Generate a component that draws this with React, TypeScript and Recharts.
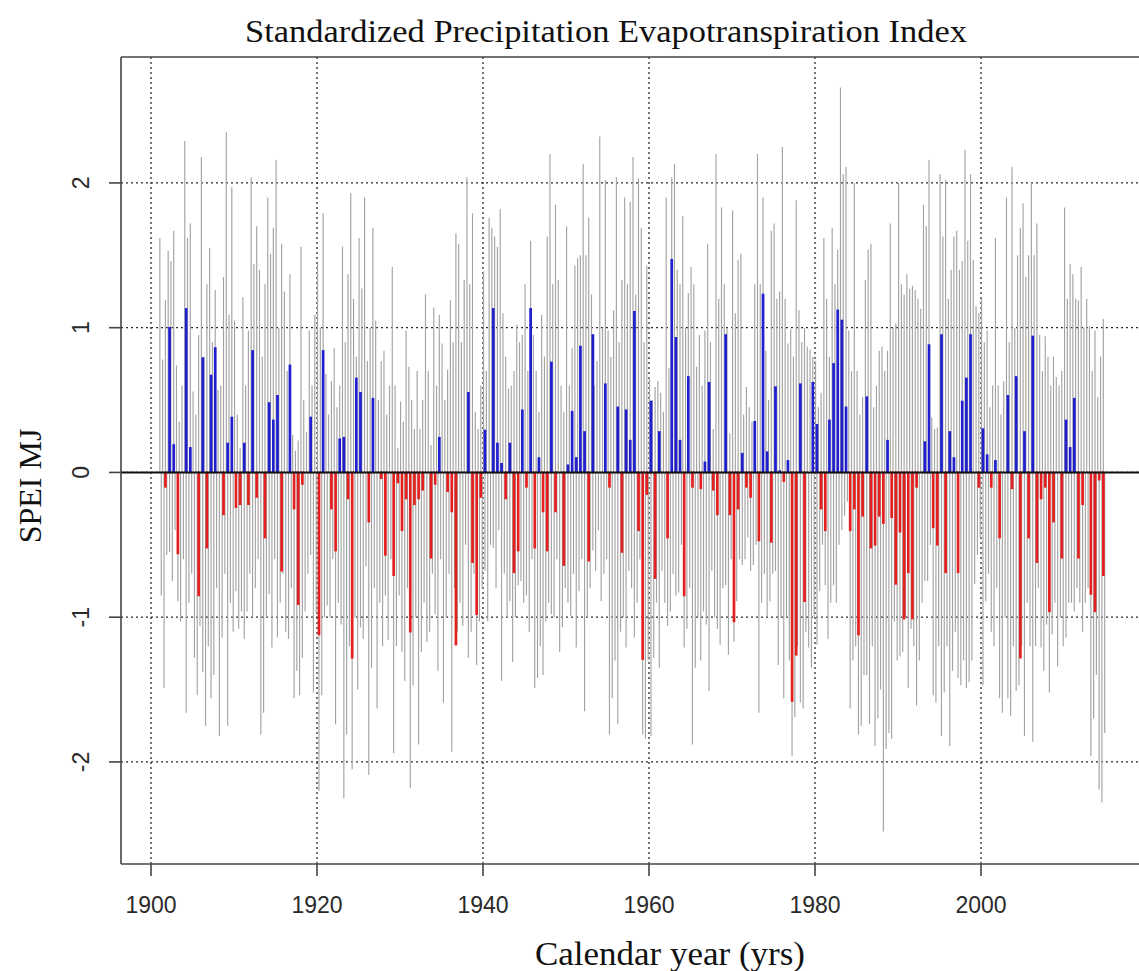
import React from "react";
import {
  Bar,
  CartesianGrid,
  Cell,
  ComposedChart,
  ReferenceLine,
  XAxis,
  YAxis,
} from "recharts";

const W = 1139;
const H = 971;

const FIRST_YEAR = 1901;
const PER_YEAR = 6;
const X_TICKS = [1900, 1920, 1940, 1960, 1980, 2000];
const Y_TICKS = [-2, -1, 0, 1, 2];

// axis extents (plot box runs past the right edge)
const X_MIN = 1896.386;
const X_MAX = 2019.036;
const Y_MIN = -2.705;
const Y_MAX = 2.87;

const GRAY = "#a3a3a3";
const BLUE = "#1f1fcf";
const RED = "#e3201e";
const AXIS = "#444";

// bi-monthly SPEI, six values per year starting 1901
const SPEI_BIMONTHLY = [
  // 1901-1905
  1.62, -0.85, 0.78, -1.49, 1.19, -0.57, 1.53, -0.55, 1.46, -0.75, 1.67, -0.4, 0.74, -0.89, 0.35, -1.03, 0.6, -0.6,
  2.29, -1.66, 1.62, -0.9, 1.72, -0.7, 0.56, -1.28, 0.4, -1.54, 0.95, -1.06,
  // 1906-1910
  2.18, -1.38, 0.8, -1.75, 1.3, -1.2, 1.55, -1.56, 0.9, -1.4, 1.26, -0.8, 0.57, -1.82, 0.6, -1.14, 1.35, -0.7,
  2.35, -1.75, 1.09, -0.9, 1.97, -1.1, 1.05, -0.82, 0.4, -1.08, 0.17, -0.96,
  // 1911-1915
  1.21, -1.15, 0.6, -0.96, 0.98, -0.7, 2.04, -1.0, 1.44, -0.8, 1.7, -0.6, 1.4, -1.81, 0.8, -1.66, 1.3, -1.0,
  1.9, -0.84, 1.51, -1.21, 1.69, -0.6, 2.16, -1.14, 1.0, -0.9, 1.58, -0.7,
  // 1916-1920
  1.25, -1.1, 0.7, -1.15, 1.37, -0.8, 0.26, -1.56, 0.15, -1.37, 0.22, -1.54, 1.56, -1.28, 0.5, -0.96, 0.28, -0.7,
  0.98, -0.57, 0.6, -1.52, 1.09, -0.97, 1.44, -2.2, 1.0, -1.54, 1.79, -1.0,
  // 1921-1925
  0.68, -0.92, 0.4, -1.0, 0.63, -0.6, 0.86, -1.74, 0.45, -0.9, 0.6, -1.05, 1.56, -2.25, 0.9, -1.81, 1.37, -1.2,
  1.93, -2.05, 1.2, -1.0, 0.8, -1.5, 1.62, -1.07, 1.27, -1.15, 1.9, -0.65,
  // 1926-1930
  0.77, -2.09, 1.0, -1.35, 1.69, -0.8, 1.05, -1.63, 0.5, -0.9, 0.77, -1.2, 0.84, -0.85, 0.4, -1.16, 0.6, -0.6,
  1.42, -1.94, 0.6, -1.2, 0.17, -0.85, 0.49, -1.24, 0.35, -1.44, 0.98, -0.8,
  // 1931-1935
  0.73, -2.18, 0.5, -1.47, 0.3, -1.0, 0.7, -1.88, 0.3, -1.24, 0.5, -0.9, 1.23, -1.17, 0.7, -1.1, 0.19, -0.7,
  1.14, -0.98, 0.6, -1.37, 1.09, -0.6, 0.89, -1.59, 0.5, -1.0, 0.71, -0.7,
  // 1936-1940
  1.19, -1.93, 0.9, -0.8, 1.65, -1.1, 1.58, -0.9, 0.9, -1.06, 1.33, -0.5, 2.04, -1.28, 1.3, -1.1, 1.79, -0.7,
  0.42, -1.33, 0.3, -1.03, 0.6, -0.8, 1.39, -0.68, 0.7, -1.03, 1.76, -0.5,
  // 1941-1945
  1.69, -0.52, 1.63, -0.8, 1.56, -0.4, 1.82, -1.44, 1.1, -0.7, 0.8, -1.0, 0.58, -0.89, 0.6, -1.31, 0.7, -1.0,
  1.02, -0.78, 0.9, -0.75, 0.95, -0.9, 1.3, -0.85, 0.7, -1.1, 1.6, -0.6,
  // 1946-1950
  0.95, -1.49, 0.7, -1.42, 0.42, -1.2, 1.09, -1.4, 0.8, -1.03, 1.63, -0.9, 2.2, -0.98, 1.3, -1.0, 1.85, -0.6,
  1.33, -1.24, 0.6, -1.07, 0.42, -0.8, 1.7, -0.9, 0.6, -0.99, 0.86, -0.7,
  // 1951-1955
  1.43, -1.21, 1.48, -0.82, 1.5, -0.6, 2.13, -1.65, 1.5, -1.0, 1.76, -0.8, 1.23, -0.54, 0.6, -0.68, 0.77, -0.4,
  2.32, -0.89, 1.0, -0.7, 2.02, -0.6, 0.98, -1.81, 0.8, -1.56, 1.12, -1.3,
  // 1956-1960
  2.04, -1.74, 0.9, -1.1, 1.33, -1.0, 1.9, -1.21, 1.3, -0.68, 1.87, -0.8, 2.18, -1.14, 1.23, -0.9, 2.03, -0.6,
  1.69, -1.81, 0.9, -1.84, 1.43, -1.3, 0.66, -1.82, 0.5, -1.28, 0.59, -0.9,
  // 1961-1965
  0.63, -1.35, 0.55, -0.68, 0.42, -0.9, 1.9, -1.06, 0.72, -0.96, 2.04, -0.7, 2.13, -0.85, 1.4, -0.83, 1.3, -0.5,
  1.77, -1.21, 1.0, -1.08, 1.24, -0.8, 1.42, -1.88, 1.3, -1.35, 0.73, -1.0,
  // 1966-1970
  0.95, -1.3, 0.6, -0.96, 0.98, -1.05, 1.58, -1.51, 0.9, -0.68, 0.3, -1.0, 2.2, -1.08, 1.2, -1.19, 1.83, -0.8,
  1.3, -0.78, 1.0, -1.26, 0.27, -0.6, 1.81, -1.17, 1.1, -0.89, 1.47, -0.6,
  // 1971-1975
  1.51, -0.64, 0.4, -0.6, 0.59, -0.45, 0.45, -0.68, 0.35, -0.64, 1.3, -0.5, 2.2, -1.66, 1.3, -0.9, 1.9, -0.7,
  0.84, -0.99, 0.5, -0.89, 1.67, -0.7, 1.72, -0.68, 1.2, -1.33, 1.25, -1.0,
  // 1976-1980
  2.25, -1.56, 1.2, -1.0, 0.89, -1.3, 0.99, -1.96, 0.8, -1.69, 1.88, -1.2, 1.12, -1.59, 0.9, -1.63, 1.0, -1.1,
  0.87, -1.21, 0.85, -1.35, 0.8, -1.0, 0.77, -1.19, 0.45, -0.82, 0.55, -0.5,
  // 1981-1985
  1.62, -0.78, 1.2, -1.15, 0.8, -0.9, 1.69, -0.78, 1.3, -0.9, 1.54, -0.5, 2.66, -0.4, 2.06, -0.3, 2.11, -0.2,
  0.98, -1.63, 0.7, -1.3, 2.0, -1.2, 0.7, -1.81, 0.4, -1.75, 0.52, -1.4,
  // 1986-1990
  1.33, -1.4, 1.54, -1.74, 1.58, -1.2, 0.45, -1.89, 0.6, -1.7, 0.84, -1.5, 0.87, -2.48, 0.7, -1.91, 0.84, -1.8,
  1.72, -1.84, 1.0, -1.03, 1.03, -1.3, 2.0, -1.27, 1.3, -1.24, 1.23, -1.0,
  // 1991-1995
  1.37, -1.49, 1.27, -1.08, 1.29, -1.2, 1.26, -1.61, 1.2, -1.3, 1.13, -0.9, 1.85, -0.75, 1.7, -0.75, 2.16, -0.5,
  0.38, -1.54, 0.3, -1.59, 0.31, -1.2, 2.06, -1.82, 1.63, -1.52, 2.02, -1.2,
  // 1996-2000
  1.2, -1.89, 1.4, -1.37, 1.63, -1.1, 1.67, -1.42, 1.4, -1.47, 1.46, -1.3, 2.23, -1.49, 1.6, -1.45, 2.06, -1.3,
  1.47, -0.77, 1.15, -0.57, 1.1, -0.45, 1.2, -1.47, 0.9, -0.89, 0.98, -0.7,
  // 2001-2005
  0.45, -1.1, 0.6, -1.2, 1.62, -0.8, 0.6, -1.56, 0.4, -1.66, 0.63, -1.0, 1.9, -1.56, 0.9, -1.68, 2.11, -1.2,
  1.0, -1.51, 1.5, -1.47, 1.69, -1.2, 1.86, -1.82, 1.35, -0.9, 1.5, -1.2,
  // 2006-2010
  2.0, -1.86, 1.5, -1.2, 1.72, -0.8, 0.95, -1.21, 0.7, -1.37, 0.94, -1.05, 0.8, -1.52, 0.6, -1.12, 0.8, -0.9,
  0.66, -1.34, 0.6, -1.0, 0.7, -1.2, 1.83, -1.14, 1.2, -0.9, 1.44, -0.9,
  // 2011-2014
  1.37, -0.96, 1.2, -0.8, 1.19, -0.9, 1.42, -1.1, 1.0, -0.9, 1.2, -0.8, 1.01, -1.96, 0.7, -1.7, 0.98, -1.4,
  0.52, -2.19, 0.8, -2.28, 1.06, -1.8,
];

// May-June SPEI, two values per year starting 1901 (0 = no bar)
const SPEI_MJ = [
  // 1901-1910
  0, -0.1, 1.0, 0.19, -0.56, 0, 1.13, 0.17, 0, -0.85, 0.79, -0.52, 0.67, 0.86, 0, -0.29, 0.2, 0.38, -0.24, -0.22,
  // 1911-1920
  0.2, -0.22, 0.84, -0.17, 0, -0.45, 0.48, 0.36, 0.53, -0.68, 0, 0.74, -0.25, -0.91, -0.08, 0, 0.38, 0, -1.12, 0.84,
  // 1921-1930
  0, -0.25, -0.54, 0.23, 0.24, -0.18, -1.28, 0.65, 0.55, 0, -0.34, 0.51, 0, -0.04, -0.57, 0, -0.71, -0.07, -0.4, -0.18,
  // 1931-1940
  -1.1, -0.22, -0.18, -0.12, 0, -0.59, -0.08, 0.24, 0, -0.13, -0.27, -1.19, 0, 0, 0.55, -0.62, -0.98, -0.17, 0.29, 0,
  // 1941-1950
  1.13, 0.2, 0.06, -0.18, 0.2, -0.69, -0.54, 0.43, -0.1, 1.13, -0.52, 0.1, -0.27, -0.54, 0.76, -0.27, 0, -0.64, 0.05, 0.42,
  // 1951-1960
  0.1, 0.87, 0.28, -0.61, 0.95, 0, 0, 0.61, -0.1, 0, 0.45, -0.55, 0.43, 0.22, 1.11, -0.4, -1.29, -0.15, 0.49, -0.73,
  // 1961-1970
  0.28, 0, -0.45, 1.47, 0.93, 0.22, -0.85, 0.66, -0.1, 0, -0.11, 0.07, 0.62, -0.12, -0.29, 0, 0.95, -0.29, -1.03, -0.25,
  // 1971-1980
  0.13, -0.1, -0.17, 0.35, -0.47, 1.23, 0.14, -0.48, 0.59, 0.01, -0.06, 0.08, -1.58, -1.26, 0.61, -0.89, 0, 0.62, 0.33, -0.25,
  // 1981-1990
  -0.4, 0.36, 0.75, 1.12, 1.05, 0.45, -0.4, -0.25, -1.12, -0.3, 0.52, -0.52, -0.5, -0.3, -0.35, 0.22, -0.31, -0.77, -0.41, -1.01,
  // 1991-2000
  -0.69, -1.01, -0.1, 0, 0.21, 0.88, -0.38, -0.5, 0.95, -0.69, 0.28, 0.1, -0.69, 0.49, 0.65, 0.95, 0, -0.1, 0.3, 0.12,
  // 2001-2010
  -0.1, 0.08, -0.45, 0, 0.53, -0.11, 0.66, -1.28, 0.28, -0.45, 0.94, -0.62, -0.18, -0.1, -0.96, -0.34, 0, -0.59, 0.36, 0.17,
  // 2011-2014
  0.51, -0.59, -0.22, 0, -0.84, -0.96, -0.05, -0.71,
];

type Row = { t: number; spei: number; mj: number | null };

// one row per two months; the May-June values sit on the 2nd and 5th row of each year
const rows: Row[] = SPEI_BIMONTHLY.map((v, i) => {
  const k = Math.floor(i / PER_YEAR);
  const q = i % PER_YEAR;
  const mj = q === 1 ? SPEI_MJ[2 * k] : q === 4 ? SPEI_MJ[2 * k + 1] : null;
  return { t: FIRST_YEAR + k + (q + 0.5) / PER_YEAR, spei: v, mj };
});

function YTick(props: any) {
  const { x, y, payload } = props;
  return (
    <text
      x={x}
      y={y}
      transform={`rotate(-90 ${x} ${y})`}
      textAnchor="middle"
      dominantBaseline="central"
      fontFamily="Liberation Sans, Arial, sans-serif"
      fontSize={23}
      fill="#2a2a2a"
    >
      {payload.value}
    </text>
  );
}

const serif = "Liberation Serif, Times New Roman, serif";

export default function App() {
  return (
    <div style={{ position: "absolute", left: 0, top: 0, width: W, height: H, background: "#fff" }}>
      <ComposedChart width={W} height={H} data={rows} margin={{ top: 57, right: 0, bottom: 0, left: 0 }}>
        <CartesianGrid
          xAxisId="m"
          stroke="#2a2a2a"
          strokeDasharray="2 3"
          strokeWidth={1.3}
          verticalValues={X_TICKS}
          horizontalValues={Y_TICKS}
        />
        <XAxis
          xAxisId="m"
          dataKey="t"
          type="number"
          domain={[X_MIN, X_MAX]}
          allowDataOverflow
          ticks={X_TICKS}
          height={107}
          tickSize={12}
          tickMargin={21}
          axisLine={{ stroke: AXIS, strokeWidth: 1.6 }}
          tickLine={{ stroke: AXIS, strokeWidth: 1.6 }}
          tick={{ fontFamily: "Liberation Sans, Arial, sans-serif", fontSize: 23, fill: "#2a2a2a" }}
        />
        <XAxis
          xAxisId="c"
          dataKey="t"
          type="number"
          domain={[X_MIN, X_MAX]}
          allowDataOverflow
          orientation="top"
          height={0}
          hide
        />
        <YAxis
          type="number"
          domain={[Y_MIN, Y_MAX]}
          allowDataOverflow
          ticks={Y_TICKS}
          width={121}
          tickSize={12}
          tickMargin={28}
          axisLine={{ stroke: AXIS, strokeWidth: 1.6 }}
          tickLine={{ stroke: AXIS, strokeWidth: 1.6 }}
          tick={<YTick />}
        />
        <Bar xAxisId="m" dataKey="spei" fill={GRAY} barSize={1.15} isAnimationActive={false} />
        <Bar xAxisId="c" dataKey="mj" barSize={1.2} isAnimationActive={false}>
          {rows.map((r, i) => {
            const c = (r.mj ?? 0) >= 0 ? BLUE : RED;
            return <Cell key={i} fill={c} stroke={c} strokeWidth={1.5} />;
          })}
        </Bar>
        <ReferenceLine xAxisId="m" y={0} stroke="#111" strokeWidth={2} />
        <ReferenceLine xAxisId="m" y={Y_MAX} stroke={AXIS} strokeWidth={1.6} />
      </ComposedChart>
      <svg
        width={W}
        height={H}
        style={{ position: "absolute", left: 0, top: 0, pointerEvents: "none" }}
      >
        <text
          x={606}
          y={42}
          textAnchor="middle"
          fontFamily={serif}
          fontSize={32}
          fill="#111"
          textLength={722}
          lengthAdjust="spacingAndGlyphs"
        >
          Standardized Precipitation Evapotranspiration Index
        </text>
        <text
          x={670}
          y={965}
          textAnchor="middle"
          fontFamily={serif}
          fontSize={34}
          fill="#111"
          textLength={270}
          lengthAdjust="spacingAndGlyphs"
        >
          Calendar year (yrs)
        </text>
        <text
          x={41}
          y={486}
          transform="rotate(-90 41 486)"
          textAnchor="middle"
          fontFamily={serif}
          fontSize={32}
          fill="#111"
        >
          SPEI MJ
        </text>
      </svg>
    </div>
  );
}
